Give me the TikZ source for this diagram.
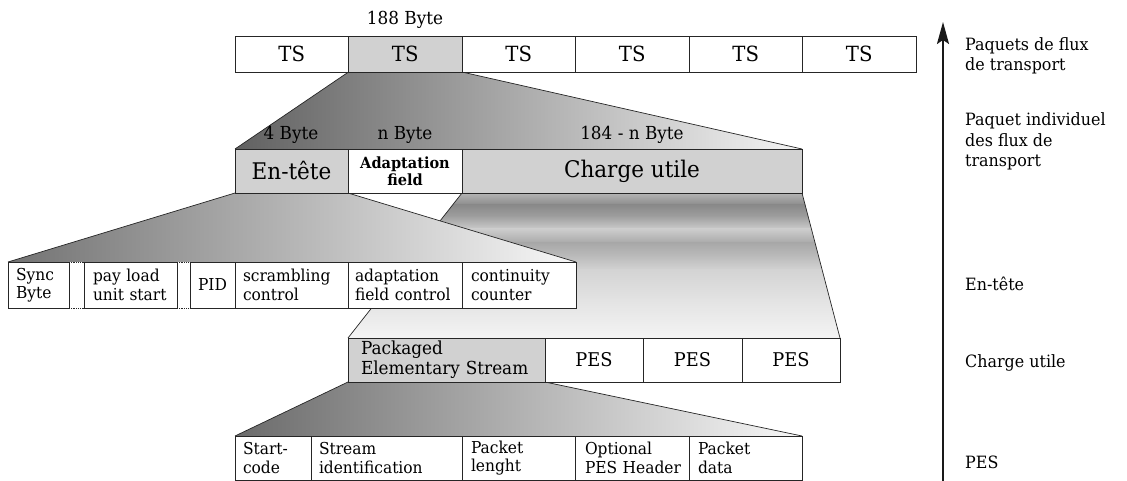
\documentclass[tikz,border=0pt]{standalone}
\usepackage{fontspec}
\setmainfont{DejaVu Serif}[FakeStretch=0.94]
\usetikzlibrary{arrows.meta}
\pgfdeclarelayer{background}
\pgfsetlayers{background,main}
\begin{document}
\hyphenpenalty=10000
\exhyphenpenalty=10000
\begin{tikzpicture}[x=1bp,y=-1bp,
  box/.style={draw=black!85, fill=white, line width=0.8bp, inner sep=0pt, outer sep=0pt, anchor=north west},
  grey/.style={fill=black!18},
  tstxt/.style={font=\fontsize{21}{24}\selectfont},
  pestxt/.style={font=\fontsize{19}{22}\selectfont},
  bigtxt/.style={font=\fontsize{23}{26}\selectfont},
  celltxt/.style={font=\fontsize{16.5}{18.5}\selectfont, align=left, inner xsep=9bp},
  dimtxt/.style={font=\fontsize{18}{20}\selectfont, inner sep=0pt, anchor=base},
  sidetxt/.style={font=\fontsize{17}{21}\selectfont, align=left, inner sep=0pt, anchor=base west},
  fanline/.style={draw=black!85, line width=0.7bp},
]
\useasboundingbox (0,0) rectangle (1127,481);

% ---- transport stream packets
\node[box,tstxt,minimum width=113.5bp,minimum height=36bp] (ts1) at (235,36) {TS};
\node[box,grey,tstxt,minimum width=113.5bp,minimum height=36bp] (ts2) at (348.5,36) {TS};
\node[box,tstxt,minimum width=113.5bp,minimum height=36bp] (ts3) at (462,36) {TS};
\node[box,tstxt,minimum width=113.5bp,minimum height=36bp] (ts4) at (575.5,36) {TS};
\node[box,tstxt,minimum width=113.5bp,minimum height=36bp] (ts5) at (689,36) {TS};
\node[box,tstxt,minimum width=113.5bp,minimum height=36bp] (ts6) at (802.5,36) {TS};
\node[dimtxt] (len188) at (405,25) {188 Byte};

% ---- single transport packet
\node[box,grey,bigtxt,minimum width=113bp,minimum height=44bp] (hdr) at (235,149) {En-tête};
\node[box,font=\bfseries\fontsize{15.5}{17}\selectfont,align=center,minimum width=114bp,minimum height=44bp] (adf) at (348,149) {Adaptation\\field};
\node[box,grey,bigtxt,minimum width=340bp,minimum height=44bp] (pay) at (462,149) {Charge utile};
\node[dimtxt] (len4) at (291,140) {4 Byte};
\node[dimtxt] (lenn) at (405,140) {n Byte};
\node[dimtxt] (lenrest) at (632,140) {184 - n Byte};

% ---- header fields
\node[box,celltxt,inner xsep=8bp,text width=45bp,minimum height=46bp] (sync) at (8,262) {Sync\\Byte};
\node[box,celltxt,text width=75bp,minimum height=46bp] (pusi) at (84,262) {pay~load\\unit~start};
\node[box,font=\fontsize{16.5}{18.5}\selectfont,minimum width=45bp,minimum height=46bp] (pid) at (190,262) {PID};
\node[box,celltxt,inner xsep=8bp,text width=97bp,minimum height=46bp] (scr) at (235,262) {scrambling\\control};
\node[box,celltxt,inner xsep=7bp,text width=100bp,minimum height=46bp] (afc) at (348,262) {adaptation\\field~control};
\node[box,celltxt,text width=96bp,minimum height=46bp] (cc) at (462,262) {continuity\\counter};
\draw[black!85, line width=0.8bp, densely dotted] (sync.north east) -- (pusi.north west) (sync.south east) -- (pusi.south west)
  (pusi.north east) -- (pid.north west) (pusi.south east) -- (pid.south west);

% ---- payload: elementary streams
\node[box,grey,font=\fontsize{18}{20}\selectfont,align=left,inner xsep=13bp,text width=171bp,minimum height=44bp] (pesA) at (348,338) {Packaged\\Elementary~Stream};
\node[box,pestxt,minimum width=98bp,minimum height=44bp] (pes2) at (545,338) {PES};
\node[box,pestxt,minimum width=99bp,minimum height=44bp] (pes3) at (643,338) {PES};
\node[box,pestxt,minimum width=98bp,minimum height=44bp] (pes4) at (742,338) {PES};

% ---- PES fields
\node[box,celltxt,inner xsep=8bp,text width=60bp,minimum height=44bp] (sc) at (235,436) {Start-\\code};
\node[box,celltxt,inner xsep=8bp,text width=135bp,minimum height=44bp] (si) at (311,436) {Stream\\identification};
\node[box,celltxt,text width=95bp,minimum height=44bp] (pl) at (462,436) {Packet\\lenght};
\node[box,celltxt,inner xsep=10bp,text width=94bp,minimum height=44bp] (op) at (575,436) {Optional\\PES~Header};
\node[box,celltxt,text width=95bp,minimum height=44bp] (pd) at (689,436) {Packet\\data};

% ---- level axis and captions
\coordinate (abot) at (943,482);
\coordinate (atop) at (943,22);
\draw[line width=2bp, black!90, -{Stealth[length=22bp,width=12bp,inset=4bp]}] (abot) -- (atop);
\node[sidetxt] (c1) at (965,71) {Paquets de flux\\de transport};
\node[sidetxt] (c2) at (965,167) {Paquet individuel\\des flux de\\transport};
\node[sidetxt] (c3) at (965,291) {En-tête};
\node[sidetxt] (c4) at (965,368) {Charge utile};
\node[sidetxt] (c5) at (965,468) {PES};

% ---- expansion fans
\begin{pgfonlayer}{background}
  % TS packet -> packet structure
  \shade[left color=black!62, right color=black!4]
    (ts2.south west) -- (ts2.south east) -- (pay.north east) -- (hdr.north west) -- cycle;
  \draw[fanline] (ts2.south west) -- (hdr.north west) (ts2.south east) -- (pay.north east);
  % payload -> elementary streams (banded)
  \begin{scope}
    \clip (pay.south west) -- (pay.south east) -- (pes4.north east) -- (pesA.north west) -- cycle;
    \shade[top color=black!28, bottom color=black!46] (330,192) rectangle (860,205.5);
    \shade[top color=black!46, bottom color=black!38] (330,205) rectangle (860,216.5);
    \shade[top color=black!38, bottom color=black!20] (330,216) rectangle (860,229.5);
    \shade[top color=black!20, bottom color=black!34] (330,229) rectangle (860,243.5);
    \shade[top color=black!34, bottom color=black!26] (330,243) rectangle (860,257.5);
    \shade[top color=black!26, bottom color=black!17] (330,257) rectangle (860,270.5);
    \shade[top color=black!17, bottom color=black!11] (330,270) rectangle (860,300.5);
    \shade[top color=black!11, bottom color=black!4] (330,300) rectangle (860,340);
  \end{scope}
  \draw[fanline] (pay.south west) -- (pesA.north west) (pay.south east) -- (pes4.north east);
  % header -> header fields
  \shade[left color=black!55, right color=black!3]
    (hdr.south west) -- (hdr.south east) -- (cc.north east) -- (sync.north west) -- cycle;
  \draw[fanline] (hdr.south west) -- (sync.north west) (hdr.south east) -- (cc.north east);
  % elementary stream -> PES fields
  \shade[left color=black!58, right color=black!3]
    (pesA.south west) -- (pesA.south east) -- (pd.north east) -- (sc.north west) -- cycle;
  \draw[fanline] (pesA.south west) -- (sc.north west) (pesA.south east) -- (pd.north east);
\end{pgfonlayer}
\end{tikzpicture}
\end{document}
